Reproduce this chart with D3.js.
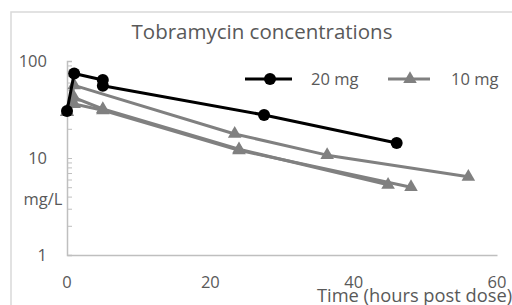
<!DOCTYPE html>
<html>
<head>
<meta charset="utf-8">
<script src="https://cdn.jsdelivr.net/npm/d3@7"></script>
<style>
  body { margin: 0; background: #fff; }
  svg { display: block; font-family: "Open Sans", sans-serif; }
</style>
</head>
<body>
<svg id="svg" width="512" height="305"></svg>
<script>
// time in hours, concentration in mg/L
const dose20 = [[0, 30.5], [1, 74.4], [5, 63.7], [5, 55.6], [27.5, 27.8], [46, 14.3]];
const dose10a = [[0, 30], [1, 56], [23.4, 17.7], [36.3, 10.7], [56, 6.4]];
const dose10b = [[0, 30], [1, 42], [5, 32], [24, 12.3], [44.8, 5.3]];
const dose10c = [[0, 30], [1, 36], [5, 31], [24, 12], [48, 5.0]];
const xTicks = [0, 20, 40, 60];
const yTicks = [1, 10, 100];
const legendLabels = ["20 mg", "10 mg"];

const svg = d3.select("#svg");
const textColor = "#595959";

const x = d3.scaleLinear().domain([0, 60]).range([67, 497]);
const y = d3.scaleLog().domain([1, 100]).range([255, 61]);

// chart frame
svg.append("rect")
  .attr("x", 11).attr("y", 12)
  .attr("width", 600).attr("height", 400)
  .attr("fill", "none")
  .attr("stroke", "#d9d9d9")
  .attr("stroke-width", 1.5);

svg.append("text")
  .attr("x", 262).attr("y", 39)
  .attr("text-anchor", "middle")
  .attr("font-size", 20.5)
  .attr("fill", textColor)
  .text("Tobramycin concentrations");

// y axis with inside minor ticks
const minor = [];
for (let d = 1; d < 100; d *= 10) {
  for (let k = 1; k <= 10; k++) minor.push(d * k);
}
const yAxis = svg.append("g").attr("transform", "translate(67,0)")
  .call(d3.axisRight(y).tickValues(minor).tickSize(5).tickFormat(""));
yAxis.select(".domain").attr("stroke", "#bfbfbf").attr("stroke-width", 1.5);
yAxis.selectAll(".tick line").attr("stroke", "#bfbfbf").attr("stroke-width", 1);

svg.selectAll(".ylab")
  .data(yTicks)
  .enter()
  .append("text")
  .attr("class", "ylab")
  .attr("x", 47)
  .attr("y", (d) => y(d) + 6)
  .attr("text-anchor", "end")
  .attr("font-size", 16.5)
  .attr("fill", textColor)
  .text((d) => d);

// x axis
const xAxis = svg.append("g").attr("transform", "translate(0,255)")
  .call(d3.axisBottom(x).tickValues(xTicks).tickSize(0).tickFormat(""));
xAxis.select(".domain").attr("stroke", "#bfbfbf").attr("stroke-width", 1.5);

svg.selectAll(".xlab")
  .data(xTicks)
  .enter()
  .append("text")
  .attr("class", "xlab")
  .attr("x", (d) => x(d))
  .attr("y", 288)
  .attr("text-anchor", "middle")
  .attr("font-size", 16.5)
  .attr("fill", textColor)
  .text((d) => d);

svg.append("text")
  .attr("x", 43).attr("y", 205)
  .attr("text-anchor", "middle")
  .attr("font-size", 16.5)
  .attr("fill", textColor)
  .text("mg/L");

svg.append("text")
  .attr("x", 317).attr("y", 302)
  .attr("font-size", 18.3)
  .attr("fill", textColor)
  .text("Time (hours post dose)");

const line = d3.line().x((d) => x(d[0])).y((d) => y(d[1]));
const tri = d3.symbol().type(d3.symbolTriangle).size(80);
const grey = "#808080";

[dose10a, dose10b, dose10c].forEach((s) => {
  svg.append("path")
    .datum(s)
    .attr("d", line)
    .attr("fill", "none")
    .attr("stroke", grey)
    .attr("stroke-width", 3)
    .attr("stroke-linejoin", "round");
  svg.selectAll(null)
    .data(s)
    .enter()
    .append("path")
    .attr("d", tri)
    .attr("transform", (d) => `translate(${x(d[0])},${y(d[1])})`)
    .attr("fill", grey);
});

svg.append("path")
  .datum(dose20)
  .attr("d", line)
  .attr("fill", "none")
  .attr("stroke", "#000")
  .attr("stroke-width", 3)
  .attr("stroke-linejoin", "round");
svg.selectAll(".dot")
  .data(dose20)
  .enter()
  .append("circle")
  .attr("class", "dot")
  .attr("cx", (d) => x(d[0]))
  .attr("cy", (d) => y(d[1]))
  .attr("r", 6)
  .attr("fill", "#000");

// legend
const legend = svg.append("g");
legend.append("line")
  .attr("x1", 245).attr("x2", 292).attr("y1", 79).attr("y2", 79)
  .attr("stroke", "#000").attr("stroke-width", 3);
legend.append("circle")
  .attr("cx", 270).attr("cy", 79).attr("r", 6).attr("fill", "#000");
legend.append("line")
  .attr("x1", 388).attr("x2", 430).attr("y1", 79).attr("y2", 79)
  .attr("stroke", grey).attr("stroke-width", 3);
legend.append("path")
  .attr("d", tri)
  .attr("transform", "translate(410,79)")
  .attr("fill", grey);
legend.selectAll("text")
  .data(legendLabels)
  .enter()
  .append("text")
  .attr("x", (d, i) => [311, 451][i])
  .attr("y", 85)
  .attr("font-size", 16.5)
  .attr("fill", textColor)
  .text((d) => d);
</script>
</body>
</html>
